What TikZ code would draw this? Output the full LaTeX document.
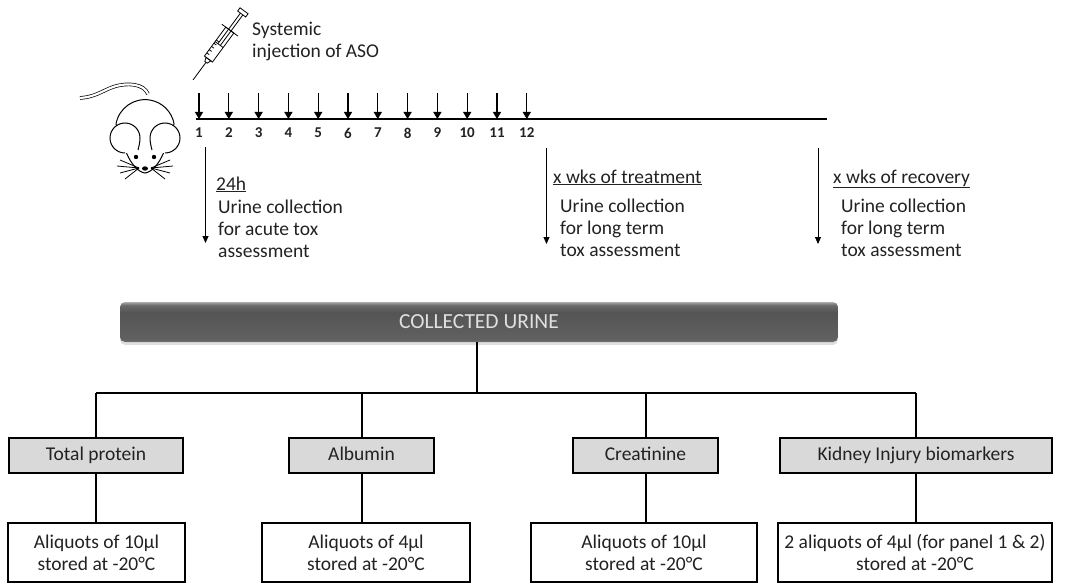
\documentclass[tikz,border=0pt]{standalone}
\usepackage{fontspec}
\setmainfont{Carlito}
\usetikzlibrary{arrows.meta,shadows}
\definecolor{boxgrey}{HTML}{D9D9D9}
\definecolor{inkgrey}{HTML}{222222}
% banner shading: light rim on top, dark body
\pgfdeclareverticalshading{bannershade}{100bp}{color(0bp)=(black!55); color(25bp)=(black!55); color(28bp)=(black!62); color(62bp)=(black!67); color(71bp)=(black!58); color(74bp)=(black!40); color(75bp)=(black!32); color(100bp)=(black!32)}
\begin{document}
\begin{tikzpicture}[x=1pt,y=-1pt,
  every node/.style={font=\fontsize{19.5}{22}\selectfont, text=inkgrey, inner sep=0pt},
  tick/.style={-{Triangle[width=8pt,length=7pt]}, line width=1.2pt},
  collect/.style={-{Triangle[width=6pt,length=7pt]}, line width=0.9pt},
  testbox/.style={draw, line width=2pt, fill=boxgrey, minimum height=35pt, text height=13.5pt, text depth=4.5pt},
  storebox/.style={draw, line width=2pt, fill=white, minimum height=59pt, align=center},
  link/.style={line width=2pt}]
\useasboundingbox (0,0) rectangle (1071,583);

% mouse
\begin{scope}[line width=1pt]
  \draw[double=white, double distance=2.2pt, line width=0.7pt] (148,94) .. controls (144,84) and (128,82) .. (113,87)
      .. controls (102,91) and (95,97) .. (80,98);
  \draw[fill=white] (116,124) arc (190:350:29.5);
  \draw[fill=white] (116,124) -- (126,152) .. controls (131,164) and (138,172) .. (145,173)
      .. controls (152,172) and (159,164) .. (164,152) -- (174,124);
  \fill[white] (125,138) circle (15) (165,138) circle (15);
  \draw (125,153) arc (90:360:15) .. controls (140,142) and (139,146) .. (138,150);
  \draw (165,153) arc (90:-180:15) .. controls (150,142) and (151,146) .. (152,150);
  \fill (136,157) circle (2.2) (154,157) circle (2.2);
  \fill (145,168.5) ellipse (3 and 2.2);
  \foreach \ex/\ey in {120/160,117/166,120/173,125/179}
    \draw[line width=0.8pt] (139,168) -- (\ex,\ey);
  \foreach \ex/\ey in {170/160,173/166,170/173,165/179}
    \draw[line width=0.8pt] (151,168) -- (\ex,\ey);
\end{scope}

% syringe
\begin{scope}[shift={(193,80)}, rotate=53.6, line width=0.8pt]
  \draw (0,0) -- (22,0);
  \draw (22,-1.5) -- (26,-3) -- (26,3) -- (22,1.5) -- cycle;
  \draw (26,-5) -- (62,-5) -- (62,5) -- (26,5) -- cycle;
  \foreach \u in {30,34,...,46}
    \draw (\u,-5) -- (\u,-2);
  \draw (44,-5) -- (44,5);
  \draw (44,-1.5) -- (82,-1.5) (44,1.5) -- (82,1.5);
  \draw (62,-10) -- (62,10);
  \draw (82,-5) -- (86,-5) -- (86,5) -- (82,5) -- cycle;
\end{scope}
\node[anchor=base west, align=left] (inject) at (252,58) {Systemic\\injection of ASO};

% dosing timeline
\coordinate (tstart) at (196,119);
\coordinate (tend) at (827,119);
\draw[line width=2pt] (tstart) -- (tend);
\foreach \i in {1,...,12}{
  \coordinate (dose\i) at ({199+(\i-1)*29.8},93);
  \draw[tick] (dose\i) -- (dose\i |- tend);
  \node[font=\fontsize{15}{17}\selectfont\bfseries] (day\i) at ({199+(\i-1)*29.8},133) {\i};
}

% urine collections
\coordinate (acute) at (205.5,147);
\coordinate (treat) at (546.5,148);
\coordinate (recov) at (818,148);
\draw[collect] (acute) -- ++(0,96);
\draw[collect] (treat) -- ++(0,96);
\draw[collect] (recov) -- ++(0,96);
\node[anchor=base west] (acutehd) at (216,190) {\underline{24h}};
\node[anchor=base west, align=left] (acutetx) at (218,257) {Urine collection\\for acute tox\\assessment};
\node[anchor=base west] (treathd) at (553,183) {\underline{x wks of treatment}};
\node[anchor=base west, align=left] (treattx) at (560,256) {Urine collection\\for long term\\tox assessment};
\node[anchor=base west] (recovhd) at (833,183) {\underline{x wks of recovery}};
\node[anchor=base west, align=left] (recovtx) at (841,256) {Urine collection\\for long term\\tox assessment};

% collected urine and the four assays
\node[rounded corners=5pt, shading=bannershade, minimum width=718pt, minimum height=40pt,
  drop shadow={opacity=0.25, shadow xshift=0pt, shadow yshift=-3pt},
  text=white!88!black, font=\fontsize{21.5}{24}\selectfont] (urine) at (479,322) {COLLECTED URINE};
\coordinate (bus) at (477,393);

\node[testbox, minimum width=174pt] (prot) at (96,455.5) {Total protein};
\node[testbox, minimum width=145pt] (albu) at (361.5,455.5) {Albumin};
\node[testbox, minimum width=145pt] (crea) at (645.5,455.5) {Creatinine};
\node[testbox, minimum width=272pt] (kidn) at (916,455.5) {Kidney Injury biomarkers};

\node[storebox, minimum width=177pt] (protst) at (96.5,552.5) {Aliquots of 10\textmu l\\stored at -20\textdegree C};
\node[storebox, minimum width=208pt] (albust) at (366,552.5) {Aliquots of 4\textmu l\\stored at -20\textdegree C};
\node[storebox, minimum width=226pt] (creast) at (644,552.5) {Aliquots of 10\textmu l\\stored at -20\textdegree C};
\node[storebox, minimum width=274pt] (kidnst) at (915,552.5) {2 aliquots of 4\textmu l (for panel 1 \& 2)\\stored at -20\textdegree C};

\draw[link] (urine.south -| bus) -- (bus);
\draw[link] (prot.north |- bus) -- (kidn.north |- bus);
\foreach \t/\s in {prot/protst,albu/albust,crea/creast,kidn/kidnst}{
  \draw[link] (\t.north |- bus) -- (\t.north);
  \draw[link] (\t.south) -- (\t.south |- \s.north);
}
\end{tikzpicture}
\end{document}
